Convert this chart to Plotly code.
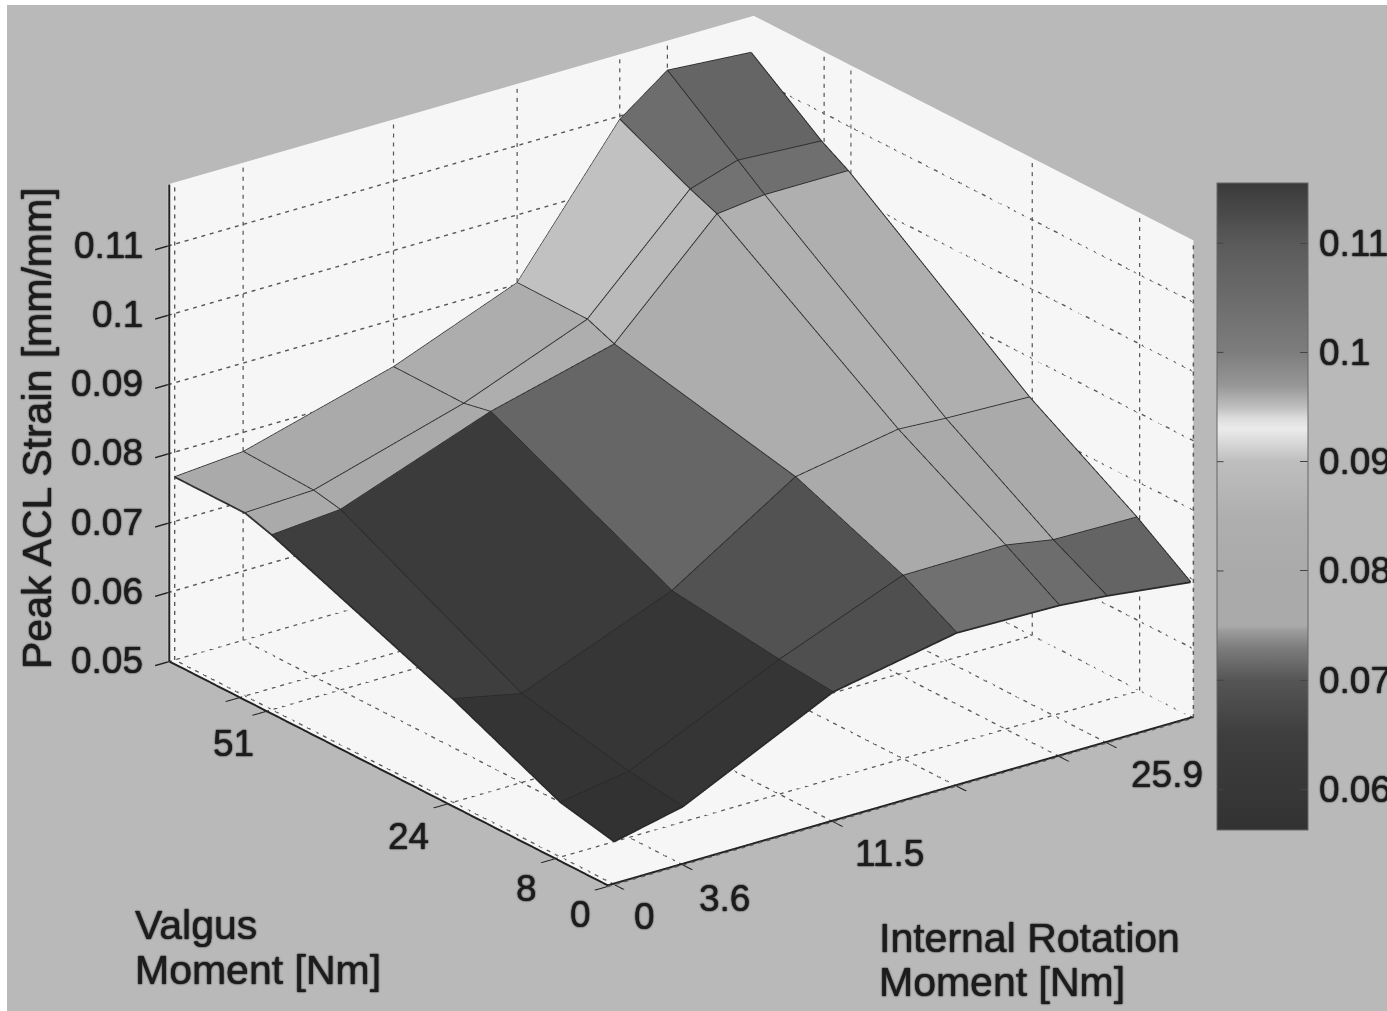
import plotly.graph_objects as go

# Data
internal_rotation = [0, 3.6, 11.5, 18, 23.4, 25.9, 30.3]
valgus = [0, 8, 24, 51, 55, 65.5]
# strain[row for valgus][column for internal rotation]
strain_v0 = [0.0562, 0.0584, 0.0687, 0.0721, 0.0718, 0.0712, 0.0697]
strain_v8 = [0.0579, 0.0595, 0.0694, 0.0764, 0.0765, 0.0753, 0.0751]
strain_v24 = [0.0649, 0.0628, 0.0714, 0.0827, 0.0853, 0.0849, 0.0845]
strain_v51 = [0.0752, 0.0760, 0.0839, 0.0885, 0.1030, 0.1038, 0.1038]
strain_v55 = [0.0764, 0.0768, 0.0831, 0.0901, 0.1046, 0.1068, 0.1061]
strain_v65 = [0.0764, 0.0772, 0.0832, 0.0902, 0.1095, 0.1146, 0.1137]
strain = [strain_v0, strain_v8, strain_v24, strain_v51, strain_v55, strain_v65]

x_ticks = [0, 3.6, 11.5, 18, 23.4, 25.9]
x_ticktext = ["0", "3.6", "11.5", "", "", "25.9"]
y_ticks = [0, 8, 24, 51, 55]
y_ticktext = ["0", "8", "24", "51", ""]
z_ticks = [0.05, 0.06, 0.07, 0.08, 0.09, 0.1, 0.11]
z_ticktext = ["0.05", "0.06", "0.07", "0.08", "0.09", "0.1", "0.11"]
cb_ticks = [0.06, 0.07, 0.08, 0.09, 0.1, 0.11]
cb_ticktext = ["0.06", "0.07", "0.08", "0.09", "0.1", "0.11"]

# grey level of the colour bar at given strain values
cb_values = [0.0563, 0.06, 0.065, 0.07, 0.073, 0.0745, 0.075, 0.08, 0.085, 0.09, 0.091, 0.093, 0.094, 0.095, 0.097, 0.1, 0.11, 0.1155]
cb_greys = [50, 55, 62, 85, 125, 155, 170, 170, 175, 190, 205, 235, 220, 190, 150, 125, 90, 58]

X_RANGE = [-0.35, 30.45]
Y_RANGE = [0, 65.5]
Z_RANGE = [0.05, 0.1189]
CMIN, CMAX = cb_values[0], cb_values[-1]
W, H = 1387, 1011
CB_LEFT = 1217
CB_TOP, CB_BOTTOM = 183, 830

colorscale = [[(v - CMIN) / (CMAX - CMIN), f"rgb({g},{g},{g})"] for v, g in zip(cb_values, cb_greys)]
SHADOW = "0 0 1px #222, 0 0 2px #222"

nx, ny = len(internal_rotation), len(valgus)
vx, vy, vz, fi, fj, fk, cell = [], [], [], [], [], [], []
for r in range(ny):
    for c in range(nx):
        vx.append(internal_rotation[c]); vy.append(valgus[r]); vz.append(strain[r][c])
for r in range(ny - 1):
    for c in range(nx - 1):
        a = r * nx + c
        b = a + 1
        d = a + nx
        e = d + 1
        fi += [a, a]; fj += [b, e]; fk += [e, d]
        cell += [strain[r][c], strain[r][c]]

fig = go.Figure()
fig.add_trace(go.Mesh3d(
    x=vx, y=vy, z=vz, i=fi, j=fj, k=fk, intensity=cell, intensitymode="cell",
    colorscale=colorscale, cmin=CMIN, cmax=CMAX, flatshading=True,
    lighting=dict(ambient=1, diffuse=0, specular=0, roughness=1, fresnel=0),
    hoverinfo="skip",
    colorbar=dict(
        x=CB_LEFT / W, xanchor="left", xpad=0, y=1 - (CB_TOP + CB_BOTTOM) / 2 / H, yanchor="middle", ypad=0,
        thicknessmode="pixels", thickness=91, lenmode="pixels", len=CB_BOTTOM - CB_TOP,
        tickvals=cb_ticks, showticklabels=False, ticks="inside", ticklen=8, tickcolor="#444",
        outlinecolor="#666", outlinewidth=1,
    ),
))

# mesh edges
ex, ey, ez = [], [], []
for r in range(ny):
    for c in range(nx):
        ex.append(internal_rotation[c]); ey.append(valgus[r]); ez.append(strain[r][c])
    ex.append(None); ey.append(None); ez.append(None)
for c in range(nx):
    for r in range(ny):
        ex.append(internal_rotation[c]); ey.append(valgus[r]); ez.append(strain[r][c])
    ex.append(None); ey.append(None); ez.append(None)
fig.add_trace(go.Scatter3d(x=ex, y=ey, z=ez, mode="lines", line=dict(color="#2a2a2a", width=3.5),
                           hoverinfo="skip", showlegend=False))

# dotted grid on the floor and the two back walls, cut into short dashes
gx, gy, gz = [], [], []
def dotted(p, q, n):
    for s in range(n):
        t0, t1 = s / n, (s + 0.45) / n
        gx.extend([p[0] + (q[0] - p[0]) * t0, p[0] + (q[0] - p[0]) * t1, None])
        gy.extend([p[1] + (q[1] - p[1]) * t0, p[1] + (q[1] - p[1]) * t1, None])
        gz.extend([p[2] + (q[2] - p[2]) * t0, p[2] + (q[2] - p[2]) * t1, None])
NX, NY, NZ = 70, 55, 53
for t in x_ticks:
    dotted((t, Y_RANGE[0], Z_RANGE[0]), (t, Y_RANGE[1], Z_RANGE[0]), NY)
    dotted((t, Y_RANGE[1], Z_RANGE[0]), (t, Y_RANGE[1], Z_RANGE[1]), NZ)
for t in y_ticks:
    dotted((X_RANGE[0], t, Z_RANGE[0]), (X_RANGE[1], t, Z_RANGE[0]), NX)
    dotted((X_RANGE[1], t, Z_RANGE[0]), (X_RANGE[1], t, Z_RANGE[1]), NZ)
for t in z_ticks:
    dotted((X_RANGE[0], Y_RANGE[1], t), (X_RANGE[1], Y_RANGE[1], t), NX)
    dotted((X_RANGE[1], Y_RANGE[0], t), (X_RANGE[1], Y_RANGE[1], t), NY)
fig.add_trace(go.Scatter3d(x=gx, y=gy, z=gz, mode="lines", line=dict(color="#585858", width=3),
                           hoverinfo="skip", showlegend=False))

# solid frame edges, set a hair inside the box so the clip does not halve them
IN_X, IN_Y, IN_Z = 0.04, 0.09, 0.00009
fx = [X_RANGE[1], X_RANGE[0] + IN_X, X_RANGE[0] + IN_X, X_RANGE[0] + IN_X]
fy = [Y_RANGE[0] + IN_Y, Y_RANGE[0] + IN_Y, Y_RANGE[1] - IN_Y, Y_RANGE[1] - IN_Y]
fz = [Z_RANGE[0] + IN_Z, Z_RANGE[0] + IN_Z, Z_RANGE[0] + IN_Z, Z_RANGE[1]]
fig.add_trace(go.Scatter3d(x=fx, y=fy, z=fz, mode="lines", line=dict(color="#222222", width=4),
                           hoverinfo="skip", showlegend=False))

TICKFONT = dict(family="Liberation Sans", size=37, color="#1c1c1c", shadow=SHADOW)
def axis(rng, tv):
    return dict(range=rng, autorange=False, tickmode="array", tickvals=tv, title=dict(text=""),
                showticklabels=False, showgrid=False, zeroline=False, showbackground=True,
                backgroundcolor="#f6f6f6", showline=False, ticks="outside", ticklen=16,
                tickcolor="#222", tickwidth=3, showspikes=False)

def tick_note(x, y, z, text, dx, dy, anchor="center"):
    return dict(x=x, y=y, z=z, text=text, showarrow=False, xshift=dx, yshift=dy, xanchor=anchor, font=TICKFONT)

notes = []
for t, s in zip(z_ticks, z_ticktext):
    notes.append(tick_note(X_RANGE[0], Y_RANGE[1], t, s, -23, 1, "right"))
y_shift = {"0": (-27, -28), "8": (-27, -29), "24": (-38, -32), "51": (-32, -32)}
for t, s in zip(y_ticks, y_ticktext):
    if s:
        notes.append(tick_note(X_RANGE[0], t, Z_RANGE[0], s, *y_shift[s]))
x_shift = {"0": (30, -32), "3.6": (42, -34), "11.5": (57, -32), "25.9": (60, -32)}
for t, s in zip(x_ticks, x_ticktext):
    if s:
        notes.append(tick_note(t, Y_RANGE[0], Z_RANGE[0], s, *x_shift[s]))

TITLEFONT = dict(family="Liberation Sans", size=41, color="#1c1c1c", shadow=SHADOW)
def title_note(text, px, py):
    return dict(text=text, x=px / W, y=1 - py / H, xref="paper", yref="paper", xanchor="left", yanchor="middle",
                showarrow=False, font=TITLEFONT)

annots = [
    dict(text="Peak ACL Strain [mm/mm]", textangle=-90, x=12 / W, y=1 - 428 / H, xref="paper", yref="paper",
         showarrow=False, font=TITLEFONT),
    title_note("Valgus", 133, 925),
    title_note("Moment [Nm]", 133, 970),
    title_note("Internal Rotation", 877, 938),
    title_note("Moment [Nm]", 877, 982),
]
# colour-bar labels and the ticks on its left side, placed by value along the bar
y_bottom, y_top = 1 - CB_BOTTOM / H, 1 - CB_TOP / H
for t, s in zip(cb_ticks, cb_ticktext):
    yy = y_bottom + (t - CMIN) / (CMAX - CMIN) * (y_top - y_bottom)
    annots.append(dict(text=s, x=1317 / W, y=yy, xref="paper", yref="paper", xanchor="left", yanchor="middle",
                       showarrow=False, font=TICKFONT))
    annots.append(dict(text="", x=CB_LEFT / W, y=yy, xref="paper", yref="paper", showarrow=True, arrowhead=0,
                       arrowwidth=1, arrowcolor="#444", ax=8, ay=0, axref="pixel", ayref="pixel"))

C = dict(x=0.0203, y=-0.0152, z=-0.1164)
ZOOM = 1.449
fig.update_layout(
    width=W, height=H, margin=dict(l=0, r=0, t=0, b=0), paper_bgcolor="white", showlegend=False,
    scene=dict(
        domain=dict(x=[0, 1], y=[0, 1]),
        xaxis=axis(X_RANGE, x_ticks),
        yaxis=axis(Y_RANGE, y_ticks),
        zaxis=axis(Z_RANGE, z_ticks),
        aspectmode="manual", aspectratio=dict(x=ZOOM, y=ZOOM, z=0.706 * ZOOM),
        camera=dict(eye=dict(x=C["x"] - 0.83, y=C["y"] - 1.106, z=C["z"] + 0.574), center=C,
                    up=dict(x=0, y=0, z=1), projection=dict(type="orthographic")),
        annotations=notes,
    ),
    shapes=[dict(type="rect", xref="paper", yref="paper", x0=7 / W, x1=1, y0=0, y1=1 - 5 / H,
                 fillcolor="#b9b9b9", line=dict(width=0), layer="below")],
    annotations=annots,
)
fig.write_html("out.html", post_script="document.body.style.margin='0';", config={"displayModeBar": False})
